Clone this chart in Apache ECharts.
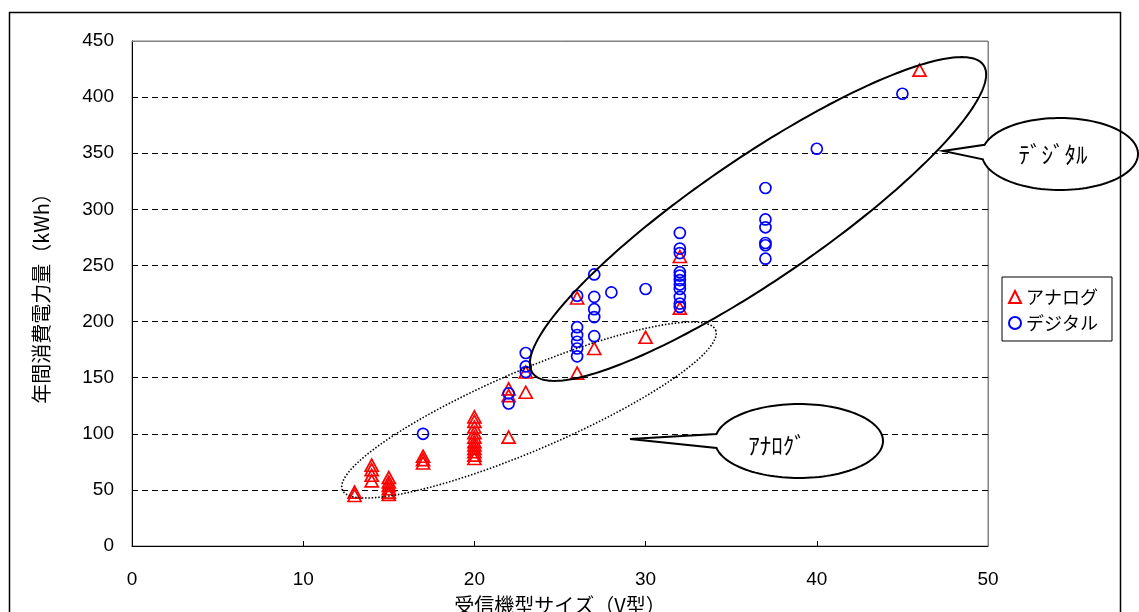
<!DOCTYPE html>
<html>
<head>
<meta charset="utf-8">
<script src="https://cdn.jsdelivr.net/npm/echarts@6/dist/echarts.min.js"></script>
<style>
  html, body { margin: 0; padding: 0; background: #fff; }
  #chart { width: 1139px; height: 612px; }
</style>
</head>
<body>
<div id="chart"></div>
<script>
// Screen size (V) and annual energy use (kWh) per model
const analogSize = [13, 13, 14, 14, 14, 14, 15, 15, 15, 15, 15, 15, 17, 17, 17,
  20, 20, 20, 20, 20, 20, 20, 20, 20, 20, 20, 22, 22, 22, 23, 23, 26, 26, 27, 30, 32, 32, 46];
const analogKwh = [48, 45, 72, 68, 63, 58, 61, 57, 54, 51, 48, 46, 80, 77, 74,
  115, 111, 106, 101, 97, 93, 90, 87, 84, 81, 78, 140, 134, 97, 155, 137, 221, 154, 176, 186, 258, 212, 424];

const digitalSize = [17, 22, 22, 23, 23, 23, 26, 26, 26, 26, 26, 26, 27, 27, 27, 27, 27, 28, 30,
  32, 32, 32, 32, 32, 32, 32, 32, 32, 32, 32, 37, 37, 37, 37, 37, 37, 40, 45];
const digitalKwh = [100, 136, 127, 172, 160, 155, 223, 195, 188, 182, 176, 169, 242, 222, 211, 204, 187, 226, 229,
  279, 265, 261, 244, 241, 237, 233, 229, 222, 216, 213, 319, 291, 284, 270, 268, 256, 354, 403];

const seriesNames = ['アナログ', 'デジタル'];
const xTicks = { min: 0, max: 50, interval: 10 };
const yTicks = { min: 0, max: 450, interval: 50 };

const JP = '"Noto Sans CJK JP", "Noto Sans", sans-serif';
const NUM = '"Liberation Sans", Arial, sans-serif';

function pairs(xs, ys) { return xs.map((x, i) => [x, ys[i]]); }

const chart = echarts.init(document.getElementById('chart'), null, { renderer: 'canvas' });

const axisCommon = {
  type: 'value',
  axisLine: { show: true, lineStyle: { color: '#000', width: 1 } },
  axisTick: { show: true, inside: true, length: 5, lineStyle: { color: '#000' } },
  axisLabel: { color: '#000', fontSize: 19, fontFamily: NUM },
  nameLocation: 'middle',
  nameTextStyle: { color: '#000', fontSize: 20, fontFamily: JP }
};

chart.setOption({
  animation: false,
  backgroundColor: '#fff',
  grid: {
    left: 132, top: 41, width: 856, height: 505,
    outerBoundsMode: 'none', containLabel: false,
    show: true, borderColor: '#808080', borderWidth: 1, backgroundColor: '#fff'
  },
  xAxis: Object.assign({}, axisCommon, {
    min: xTicks.min, max: xTicks.max, interval: xTicks.interval,
    splitLine: { show: false },
    axisLabel: Object.assign({}, axisCommon.axisLabel, { margin: 24 }),
    name: '受信機型サイズ（V型）', nameGap: 49
  }),
  yAxis: Object.assign({}, axisCommon, {
    min: yTicks.min, max: yTicks.max, interval: yTicks.interval,
    splitLine: { show: true, lineStyle: { color: '#000', width: 1, type: [6, 4] } },
    axisLabel: Object.assign({}, axisCommon.axisLabel, { margin: 18, padding: [6, 0, 0, 0] }),
    name: '年間消費電力量（kWh）', nameRotate: 90, nameGap: 81
  }),
  legend: {
    left: 1002, top: 277, orient: 'vertical',
    padding: [11, 14, 9, 6], itemGap: 8, itemWidth: 12, itemHeight: 12, itemTextGap: 11,
    borderColor: '#000', borderWidth: 1, backgroundColor: '#fff',
    selectedMode: false,
    textStyle: { color: '#000', fontSize: 18, fontFamily: JP },
    data: seriesNames
  },
  series: [
    {
      name: seriesNames[0], type: 'scatter', symbol: 'triangle', symbolSize: [13, 12],
      itemStyle: { color: 'rgba(255,255,255,0)', borderColor: '#ff0000', borderWidth: 1.7, opacity: 1 },
      emphasis: { disabled: true },
      data: pairs(analogSize, analogKwh), z: 3
    },
    {
      name: seriesNames[1], type: 'scatter', symbol: 'circle', symbolSize: 11,
      itemStyle: { color: 'rgba(255,255,255,0)', borderColor: '#0000ff', borderWidth: 1.7, opacity: 1 },
      emphasis: { disabled: true },
      data: pairs(digitalSize, digitalKwh), z: 4
    }
  ]
});

// ---- annotation shapes (pixel space) ----
function rotatedEllipse(cx, cy, a, b, deg, n) {
  const p = deg * Math.PI / 180;
  const ux = Math.cos(p), uy = -Math.sin(p);
  const vx = Math.sin(p), vy = Math.cos(p);
  const pts = [];
  for (let i = 0; i < n; i++) {
    const t = i / n * Math.PI * 2;
    const c = Math.cos(t) * a, s = Math.sin(t) * b;
    pts.push([cx + c * ux + s * vx, cy + c * uy + s * vy]);
  }
  return pts;
}

// speech bubble: ellipse with a pointed tail leaving from its left side
function bubble(cx, cy, rx, ry, tTop, tBottom, tip) {
  const pts = [];
  const start = Math.PI + tTop, end = Math.PI - tBottom + Math.PI * 2;
  const n = 120;
  for (let i = 0; i <= n; i++) {
    const t = start + (end - start) * i / n;
    pts.push([cx + rx * Math.cos(t), cy + ry * Math.sin(t)]);
  }
  pts.push(tip);
  return pts;
}

const p0 = chart.convertToPixel({ gridIndex: 0 }, [xTicks.min, yTicks.min]);
const p1 = chart.convertToPixel({ gridIndex: 0 }, [xTicks.max, yTicks.max]);

chart.setOption({
  graphic: [
    // plot frame top/right edges
    { type: 'polyline', silent: true, z: 10,
      shape: { points: [[p0[0], p1[1] + 0.5], [p1[0] + 0.5, p1[1] + 0.5], [p1[0] + 0.5, p0[1]]] },
      style: { stroke: '#808080', lineWidth: 1, fill: null } },
    // digital group outline
    { type: 'polygon', silent: true, z: 20,
      shape: { points: rotatedEllipse(758, 219, 273, 61, 34.3, 240) },
      style: { fill: null, stroke: '#000', lineWidth: 2 } },
    // analog group outline (dotted)
    { type: 'polygon', silent: true, z: 20,
      shape: { points: rotatedEllipse(529, 410, 203, 40, 23.2, 240) },
      style: { fill: null, stroke: '#000', lineWidth: 1.6, lineDash: [1.5, 1.8] } },
    // callouts
    { type: 'polygon', silent: true, z: 30,
      shape: { points: bubble(1060, 154, 78, 36, 0.26, 0.15, [943, 151]) },
      style: { fill: '#fff', stroke: '#000', lineWidth: 2 } },
    { type: 'text', silent: true, z: 31,
      style: { x: 1053, y: 154, text: 'ﾃﾞｼﾞﾀﾙ', fill: '#000', font: '23px ' + JP, textAlign: 'center', textVerticalAlign: 'middle' } },
    { type: 'polygon', silent: true, z: 30,
      shape: { points: bubble(799, 441, 84, 37, 0.19, 0.19, [630, 439]) },
      style: { fill: '#fff', stroke: '#000', lineWidth: 2 } },
    { type: 'text', silent: true, z: 31,
      style: { x: 777, y: 445, text: 'ｱﾅﾛｸﾞ', fill: '#000', font: '23px ' + JP, textAlign: 'center', textVerticalAlign: 'middle' } },
    // outer chart border
    { type: 'rect', silent: true, z: 40,
      shape: { x: 9.5, y: 12.5, width: 1111, height: 700 },
      style: { fill: null, stroke: '#000', lineWidth: 1.5 } }
  ]
});
</script>
</body>
</html>
